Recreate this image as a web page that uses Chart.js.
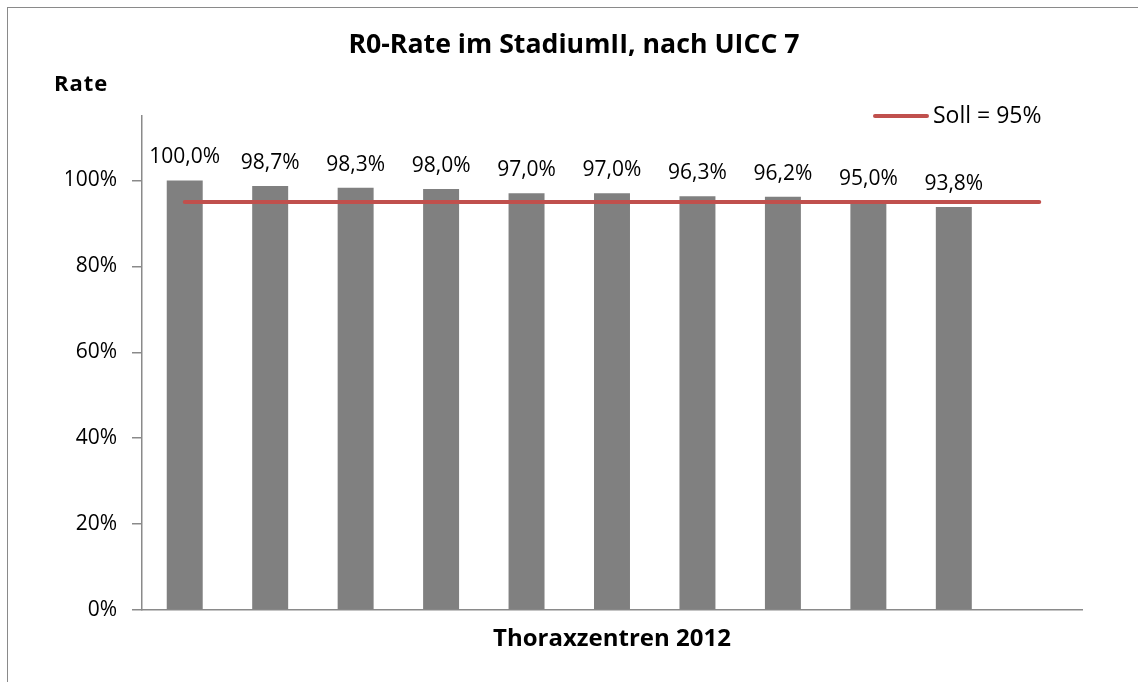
<!DOCTYPE html>
<html>
<head>
<meta charset="utf-8">
<script src="https://cdn.jsdelivr.net/npm/chart.js@4.4.1/dist/chart.umd.min.js"></script>
<style>
  html, body { margin: 0; padding: 0; background: #fff; overflow: hidden; }
  #frame { position: absolute; left: 7px; top: 7px; width: 1300px; height: 900px; border: 1px solid #8a8a8a; }
  #chart { position: absolute; left: 0; top: 0; }
</style>
</head>
<body>
<div id="frame"></div>
<canvas id="chart" width="1138" height="682"></canvas>
<script>
// Thoraxzentren 2012 (anonymised), last slot stays empty like in the original sheet
const centres = ['Z1', 'Z2', 'Z3', 'Z4', 'Z5', 'Z6', 'Z7', 'Z8', 'Z9', 'Z10', ''];
const r0Rates = [100.0, 98.7, 98.3, 98.0, 97.0, 97.0, 96.3, 96.2, 95.0, 93.8, null];
const targetRates = [95, 95, 95, 95, 95, 95, 95, 95, 95, 95, 95];
const yTickValues = [0, 20, 40, 60, 80, 100];

const chartTitle = 'R0-Rate im StadiumII, nach UICC 7';
const yLabel = 'Rate';
const xLabel = 'Thoraxzentren 2012';
const targetLabel = 'Soll = 95%';

const FONT = '"Open Sans", "DejaVu Sans", sans-serif';
const RED = '#C0504D';

const formatRate = v => v.toFixed(1).replace('.', ',') + '%';

// value labels, the "Rate" caption and the legend sit where Excel put them
const extrasPlugin = {
  id: 'extras',
  afterDatasetsDraw(chart) {
    const ctx = chart.ctx;
    ctx.save();
    ctx.fillStyle = '#000';

    ctx.font = '21px ' + FONT;
    ctx.textAlign = 'center';
    ctx.textBaseline = 'alphabetic';
    chart.getDatasetMeta(0).data.forEach((bar, i) => {
      const v = r0Rates[i];
      if (v === null) return;
      ctx.fillText(formatRate(v), bar.x, bar.y - 17);
    });

    ctx.font = 'bold 22px ' + FONT;
    ctx.textAlign = 'left';
    ctx.letterSpacing = '1px';
    ctx.fillText(yLabel, 54, 91);
    ctx.letterSpacing = '0px';

    const ds = chart.data.datasets[1];
    ctx.strokeStyle = ds.borderColor;
    ctx.lineWidth = ds.borderWidth;
    ctx.lineCap = 'round';
    ctx.beginPath();
    ctx.moveTo(875, 116);
    ctx.lineTo(927, 116);
    ctx.stroke();
    ctx.font = '23px ' + FONT;
    ctx.textBaseline = 'middle';
    ctx.fillText(ds.label, 933, 116);
    ctx.restore();
  }
};

new Chart(document.getElementById('chart'), {
  data: {
    labels: centres,
    datasets: [
      {
        type: 'bar',
        label: 'R0-Rate',
        data: r0Rates,
        backgroundColor: '#808080',
        borderWidth: 0,
        barPercentage: 0.421,
        categoryPercentage: 1,
        order: 2
      },
      {
        type: 'line',
        label: targetLabel,
        data: targetRates,
        borderColor: RED,
        borderWidth: 4,
        borderCapStyle: 'round',
        pointRadius: 0,
        fill: false,
        order: 1
      }
    ]
  },
  options: {
    responsive: false,
    animation: false,
    layout: { padding: { left: 66, right: 56, top: 0, bottom: 0 } },
    plugins: {
      legend: { display: false },
      tooltip: { enabled: false },
      title: {
        display: true,
        text: chartTitle,
        color: '#000',
        font: { family: FONT, size: 26.7, weight: 'bold', lineHeight: 1.2 },
        padding: { top: 29, bottom: 55 }
      }
    },
    scales: {
      x: {
        afterFit: scale => { scale.height = 72; },
        grid: { display: false, drawTicks: false },
        border: { display: true, color: '#8a8a8a', width: 1.5 },
        ticks: { display: false },
        title: {
          display: true,
          text: xLabel,
          color: '#000',
          font: { family: FONT, size: 24, weight: 'bold', lineHeight: 1.2 },
          padding: { top: 0, bottom: 28.6 }
        }
      },
      y: {
        min: 0,
        max: 115,
        afterFit: scale => { scale.width = 76; },
        afterBuildTicks: scale => { scale.ticks = yTickValues.map(v => ({ value: v })); },
        grid: {
          display: true,
          drawOnChartArea: false,
          drawTicks: true,
          tickLength: 10,
          color: '#8a8a8a',
          lineWidth: 1.5
        },
        border: { display: true, color: '#8a8a8a', width: 1.5 },
        ticks: {
          padding: 15,
          color: '#000',
          font: { family: FONT, size: 21 },
          callback: v => v + '%'
        }
      }
    }
  },
  plugins: [extrasPlugin]
});
</script>
</body>
</html>
